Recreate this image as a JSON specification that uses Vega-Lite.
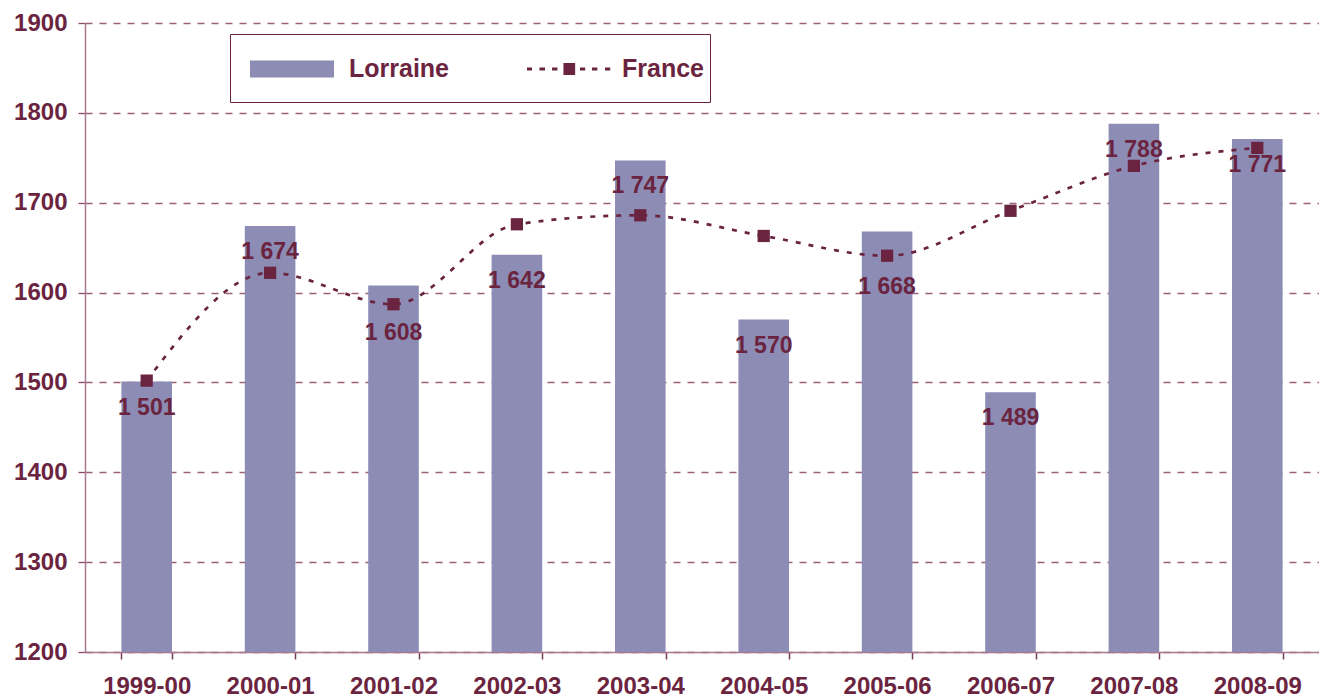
{
  "$schema": "https://vega.github.io/schema/vega-lite/v6.json",
  "autosize": {"type": "none"},
  "padding": {"left": 85, "top": 23, "right": 0, "bottom": 45},
  "width": 1234,
  "height": 629,
  "background": "white",
  "config": {
    "locale": {"number": {"decimal": ",", "thousands": " ", "grouping": [3], "currency": ["", " €"]}},
    "view": {"stroke": null},
    "font": "Liberation Sans"
  },
  "data": {"values": [
    {"season": "1999-00", "lorraine": 1501, "france": 1502},
    {"season": "2000-01", "lorraine": 1674, "france": 1622},
    {"season": "2001-02", "lorraine": 1608, "france": 1587},
    {"season": "2002-03", "lorraine": 1642, "france": 1676},
    {"season": "2003-04", "lorraine": 1747, "france": 1686},
    {"season": "2004-05", "lorraine": 1570, "france": 1663},
    {"season": "2005-06", "lorraine": 1668, "france": 1641},
    {"season": "2006-07", "lorraine": 1489, "france": 1691},
    {"season": "2007-08", "lorraine": 1788, "france": 1741},
    {"season": "2008-09", "lorraine": 1771, "france": 1761}
  ]},
  "encoding": {
    "x": {
      "field": "season", "type": "nominal", "sort": null,
      "scale": {"paddingInner": 0.59, "paddingOuter": 0.295},
      "axis": {
        "title": null, "labelAngle": 0, "grid": false,
        "tickBand": "extent", "tickSize": 7, "tickColor": "#7A3A55", "tickWidth": 1.5,
        "domainColor": "#A87890", "domainWidth": 1.5,
        "labelFont": "Liberation Sans", "labelFontWeight": "bold", "labelFontSize": 24,
        "labelColor": "#6B2440", "labelPadding": 15
      }
    }
  },
  "layer": [
    {
      "mark": {"type": "bar", "opacity": 1},
      "encoding": {
        "y": {
          "field": "lorraine", "type": "quantitative",
          "scale": {"domain": [1200, 1900], "zero": false, "nice": false},
          "axis": {
            "title": null, "values": [1200, 1300, 1400, 1500, 1600, 1700, 1800, 1900],
            "format": "d",
            "grid": true, "gridDash": [7, 7], "gridColor": "#9C6079", "gridWidth": 1.3,
            "tickSize": 7, "tickColor": "#8A4A65", "tickWidth": 1.3,
            "domainColor": "#A87890", "domainWidth": 1.5,
            "labelFont": "Liberation Sans", "labelFontWeight": "bold", "labelFontSize": 24,
            "labelColor": "#6B2440", "labelPadding": 11
          }
        },
        "y2": {"datum": 1200},
        "color": {
          "datum": "Lorraine",
          "scale": {"domain": ["Lorraine"], "range": ["#8C8CB4"]},
          "legend": {
            "title": null,
            "orient": "none", "legendX": 145, "legendY": 11,
            "direction": "horizontal",
            "strokeColor": "#6B2440",
            "padding": 20,
            "symbolSize": 900,
            "symbolType": "M-1,-0.57H4.6V0.57H-1Z M28.3,0L28.3,0.01",
            "symbolStrokeWidth": 0,
            "symbolOpacity": 1,
            "labelOffset": 69,
            "labelFont": "Liberation Sans", "labelFontWeight": "bold", "labelFontSize": 25,
            "labelColor": "#6B2440", "labelLimit": 300
          }
        }
      }
    },
    {
      "mark": {"type": "line", "interpolate": "monotone", "strokeWidth": 2.7, "color": "#6B2440"},
      "encoding": {
        "y": {"field": "france", "type": "quantitative"},
        "strokeDash": {
          "datum": "France",
          "scale": {"domain": ["France"], "range": [[5, 8]]},
          "legend": {
            "title": null,
            "orient": "none", "legendX": 442, "legendY": 31,
            "direction": "horizontal",
            "padding": 0,
            "symbolSize": 900,
            "symbolType": "M-1,-0.1H-0.67V0.1H-1Z M-0.17,-0.1H0.2V0.1H-0.17Z M0.67,-0.1H1.03V0.1H0.67Z M1.43,-0.4H2.21V0.4H1.43Z M2.53,-0.1H2.88V0.1H2.53Z M3.33,-0.1H3.69V0.1H3.33Z M4.2,-0.1H4.55V0.1H4.2Z",
            "symbolFillColor": "#6B2440",
            "symbolStrokeWidth": 0,
            "symbolOpacity": 1,
            "labelOffset": 65,
            "labelFont": "Liberation Sans", "labelFontWeight": "bold", "labelFontSize": 25,
            "labelColor": "#6B2440", "labelLimit": 300
          }
        }
      }
    },
    {
      "mark": {"type": "point", "shape": "square", "size": 150, "filled": true, "opacity": 1, "color": "#6B2440"},
      "encoding": {
        "y": {"field": "france", "type": "quantitative"}
      }
    },
    {
      "transform": [{"filter": "datum.season !== '2001-02' && datum.season !== '2005-06'"}],
      "mark": {"type": "text", "baseline": "middle", "align": "center", "dy": 26, "font": "Liberation Sans", "fontWeight": "bold", "fontSize": 23, "color": "#6B2440"},
      "encoding": {
        "y": {"field": "lorraine", "type": "quantitative"},
        "text": {"field": "lorraine", "type": "quantitative", "format": ",d"}
      }
    },
    {
      "transform": [{"filter": "datum.season === '2001-02'"}],
      "mark": {"type": "text", "baseline": "middle", "align": "center", "dy": 48, "font": "Liberation Sans", "fontWeight": "bold", "fontSize": 23, "color": "#6B2440"},
      "encoding": {
        "y": {"field": "lorraine", "type": "quantitative"},
        "text": {"field": "lorraine", "type": "quantitative", "format": ",d"}
      }
    },
    {
      "transform": [{"filter": "datum.season === '2005-06'"}],
      "mark": {"type": "text", "baseline": "middle", "align": "center", "dy": 56, "font": "Liberation Sans", "fontWeight": "bold", "fontSize": 23, "color": "#6B2440"},
      "encoding": {
        "y": {"field": "lorraine", "type": "quantitative"},
        "text": {"field": "lorraine", "type": "quantitative", "format": ",d"}
      }
    }
  ]
}
